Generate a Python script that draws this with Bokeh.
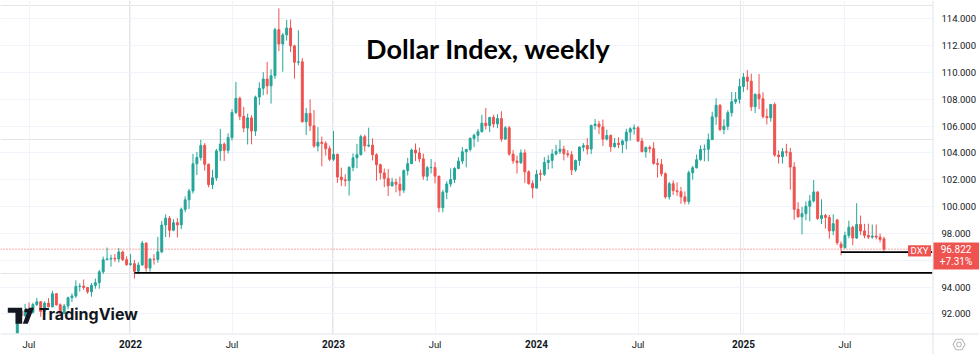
import pandas as pd
from bokeh.plotting import figure
from bokeh.models import (ColumnDataSource, Label, Span, PolyAnnotation, BoxAnnotation,
                          FixedTicker, Range1d, Grid)
from bokeh.embed import file_html
from bokeh.resources import INLINE

# ---------------- data (weekly DXY candles) ----------------
first_week = "2021-06-14"
opens = [
    90.52, 92.23, 91.85, 92.23, 92.12, 92.69, 92.90, 92.17, 92.80, 92.52,
    93.50, 92.67, 92.04, 92.58, 93.20, 93.33, 94.04, 94.07, 93.96, 93.64,
    94.12, 94.32, 95.13, 96.03, 96.09, 96.14, 96.09, 96.61, 96.04, 95.67,
    95.74, 95.17, 95.64, 97.27, 95.41, 96.08, 96.06, 96.62, 98.62, 99.13,
    98.23, 98.79, 98.63, 99.79, 100.50, 101.16, 103.19, 103.66, 104.56, 103.15,
    101.63, 102.14, 104.15, 104.65, 104.19, 105.14, 107.01, 108.07, 106.73, 105.85,
    106.61, 105.63, 108.16, 108.82, 109.51, 109.00, 109.76, 113.19, 112.12, 112.80,
    113.31, 111.98, 110.76, 110.79, 106.32, 106.94, 106.02, 104.51, 104.80, 104.70,
    104.32, 103.52, 103.89, 102.20, 101.99, 101.93, 102.92, 103.63, 103.87, 105.21,
    104.52, 104.58, 103.86, 103.12, 102.51, 102.10, 101.55, 101.82, 101.66, 101.22,
    102.68, 103.20, 104.21, 104.00, 103.56, 102.26, 102.90, 102.91, 102.27, 99.91,
    101.07, 101.68, 102.02, 102.84, 103.39, 104.08, 104.26, 105.08, 105.32, 105.58,
    106.22, 106.04, 106.65, 106.16, 106.56, 105.03, 105.87, 103.91, 103.40, 103.27,
    104.00, 102.59, 101.71, 101.38, 102.45, 102.40, 103.29, 103.44, 103.92, 104.11,
    104.28, 103.94, 103.86, 102.73, 103.43, 104.43, 104.55, 104.29, 106.04, 106.15,
    105.94, 105.03, 105.30, 104.46, 104.72, 104.62, 104.89, 105.55, 105.80, 105.87,
    104.88, 104.09, 104.40, 104.32, 103.21, 103.14, 102.45, 100.72, 101.70, 101.18,
    101.11, 100.72, 100.38, 102.52, 102.89, 103.49, 104.26, 104.28, 104.99, 106.69,
    107.55, 105.74, 105.99, 107.00, 107.82, 108.00, 108.95, 109.65, 109.35, 107.44,
    108.37, 108.04, 106.71, 106.62, 107.61, 103.84, 103.72, 104.09, 104.04, 102.95,
    99.79, 99.23, 99.47, 100.02, 100.42, 101.09, 99.11, 99.33, 99.19, 98.18,
    99.00, 97.20, 96.95, 97.85, 98.46, 97.65, 98.66, 98.18, 97.85, 97.72,
    97.80, 97.72, 97.59,
]
highs = [
    92.40, 92.41, 92.74, 92.84, 92.83, 93.19, 92.93, 92.94, 93.17, 93.73,
    93.54, 92.78, 92.72, 93.28, 93.52, 94.50, 94.28, 94.56, 94.01, 94.30,
    94.63, 95.27, 96.27, 96.94, 96.40, 96.46, 96.91, 96.72, 96.29, 96.46,
    96.01, 95.85, 97.44, 97.34, 96.18, 96.44, 97.74, 98.92, 99.42, 99.29,
    99.06, 99.14, 99.92, 100.76, 101.32, 103.93, 104.07, 104.98, 104.73, 103.20,
    102.74, 104.30, 105.79, 104.79, 105.45, 107.27, 109.29, 108.19, 107.43, 106.93,
    106.81, 108.27, 109.27, 110.02, 110.79, 110.24, 113.33, 114.78, 112.95, 113.92,
    113.95, 112.07, 113.15, 111.07, 107.35, 107.99, 107.20, 105.92, 105.22, 104.87,
    104.53, 105.63, 103.95, 102.90, 102.41, 103.01, 103.96, 104.67, 105.36, 105.36,
    105.88, 105.09, 103.98, 103.20, 102.84, 102.80, 102.14, 102.09, 102.23, 102.77,
    103.63, 104.33, 104.70, 104.40, 103.95, 103.03, 103.55, 103.32, 102.28, 101.24,
    101.89, 102.84, 102.94, 103.68, 104.44, 104.30, 105.16, 105.43, 105.78, 106.84,
    107.35, 106.67, 106.85, 106.89, 107.11, 106.00, 106.00, 104.21, 103.80, 104.26,
    104.26, 102.70, 101.95, 102.73, 102.74, 103.69, 103.82, 104.28, 104.60, 104.97,
    104.54, 104.21, 104.13, 103.51, 104.49, 104.73, 105.10, 106.11, 106.52, 106.39,
    106.49, 105.74, 105.38, 105.12, 105.16, 105.00, 105.80, 105.91, 106.13, 106.00,
    105.13, 104.49, 104.55, 104.80, 103.59, 103.54, 102.55, 101.84, 101.95, 101.80,
    101.47, 101.13, 102.69, 103.03, 103.87, 104.57, 104.63, 105.44, 107.07, 108.07,
    107.66, 106.51, 107.18, 108.54, 108.54, 109.54, 109.96, 110.18, 109.91, 108.44,
    109.88, 108.52, 107.30, 107.66, 107.76, 104.19, 104.36, 104.68, 104.37, 103.31,
    100.33, 99.98, 100.38, 100.86, 101.98, 101.12, 100.54, 99.45, 99.37, 99.42,
    99.09, 97.40, 98.12, 98.95, 98.58, 100.25, 99.33, 98.71, 98.72, 98.66,
    98.66, 97.98, 97.75,
]
lows = [
    90.42, 91.51, 91.81, 91.88, 92.02, 92.58, 91.78, 91.91, 92.49, 92.49,
    92.62, 91.94, 92.01, 92.33, 92.88, 93.18, 93.67, 93.78, 93.50, 93.28,
    93.87, 93.87, 94.98, 96.02, 95.52, 95.88, 95.83, 95.92, 95.57, 95.58,
    94.63, 94.96, 95.60, 95.14, 95.14, 95.67, 95.82, 96.52, 97.72, 97.71,
    98.16, 97.69, 98.31, 99.57, 99.82, 100.97, 102.35, 103.43, 102.67, 101.43,
    101.30, 101.92, 103.41, 103.40, 103.95, 104.92, 106.89, 106.44, 105.54, 104.63,
    104.64, 105.27, 107.58, 108.30, 108.36, 107.68, 109.52, 111.59, 110.05, 112.37,
    111.51, 109.54, 110.53, 106.27, 105.34, 105.63, 104.38, 104.11, 103.00, 103.80,
    103.38, 103.39, 101.77, 101.53, 101.50, 100.82, 102.63, 102.86, 103.80, 104.10,
    104.42, 103.44, 101.92, 102.02, 101.45, 100.79, 101.47, 101.06, 100.79, 101.01,
    102.32, 103.16, 103.39, 103.31, 102.00, 101.91, 102.47, 101.73, 99.58, 99.57,
    100.55, 101.46, 101.74, 102.78, 103.17, 102.93, 104.11, 104.43, 104.82, 105.53,
    105.74, 105.55, 105.89, 105.84, 104.84, 104.97, 103.79, 103.18, 102.46, 103.18,
    101.77, 101.62, 100.62, 101.34, 101.91, 102.28, 102.77, 102.84, 103.82, 103.92,
    103.44, 103.66, 102.35, 102.59, 103.05, 104.11, 103.88, 103.92, 105.74, 105.40,
    104.52, 104.93, 104.08, 104.39, 104.35, 103.99, 104.26, 104.91, 105.37, 104.84,
    104.05, 103.65, 104.01, 103.12, 102.16, 102.25, 100.59, 100.52, 100.86, 100.80,
    100.21, 100.16, 100.16, 102.00, 102.84, 103.42, 103.37, 103.37, 104.97, 106.10,
    105.62, 105.40, 105.70, 106.71, 107.64, 107.69, 108.55, 108.69, 107.13, 106.97,
    107.26, 106.56, 106.12, 106.33, 103.72, 103.20, 103.21, 103.74, 101.26, 99.01,
    99.17, 97.92, 98.98, 98.90, 100.30, 99.00, 98.69, 98.36, 97.60, 97.87,
    97.14, 96.37, 96.84, 97.63, 97.11, 97.58, 97.89, 97.63, 97.58, 97.60,
    97.55, 97.33, 96.55,
]
closes = [
    92.23, 91.85, 92.23, 92.12, 92.69, 92.90, 92.17, 92.80, 92.52, 93.50,
    92.67, 92.04, 92.58, 93.20, 93.33, 94.04, 94.07, 93.96, 93.64, 94.12,
    94.32, 95.13, 96.03, 96.09, 96.14, 96.09, 96.61, 96.04, 95.67, 95.74,
    95.17, 95.64, 97.27, 95.41, 96.08, 96.06, 96.62, 98.62, 99.13, 98.23,
    98.79, 98.63, 99.79, 100.50, 101.16, 103.19, 103.66, 104.56, 103.15, 101.63,
    102.14, 104.15, 104.65, 104.19, 105.14, 107.01, 108.07, 106.73, 105.85, 106.61,
    105.63, 108.16, 108.82, 109.51, 109.00, 109.76, 113.19, 112.12, 112.80, 113.31,
    111.98, 110.76, 110.79, 106.32, 106.94, 106.02, 104.51, 104.80, 104.70, 104.32,
    103.52, 103.89, 102.20, 101.99, 101.93, 102.92, 103.63, 103.87, 105.21, 104.52,
    104.58, 103.86, 103.12, 102.51, 102.10, 101.55, 101.82, 101.66, 101.22, 102.68,
    103.20, 104.21, 104.00, 103.56, 102.26, 102.90, 102.91, 102.27, 99.91, 101.07,
    101.68, 102.02, 102.84, 103.39, 104.08, 104.26, 105.08, 105.32, 105.58, 106.22,
    106.04, 106.65, 106.16, 106.56, 105.03, 105.87, 103.91, 103.40, 103.27, 104.00,
    102.59, 101.71, 101.38, 102.41, 102.40, 103.29, 103.44, 103.92, 104.11, 104.28,
    103.94, 103.86, 102.73, 103.43, 104.43, 104.55, 104.29, 106.04, 106.15, 105.94,
    105.03, 105.30, 104.46, 104.72, 104.62, 104.89, 105.55, 105.80, 105.87, 104.88,
    104.09, 104.40, 104.32, 103.21, 103.14, 102.45, 100.72, 101.70, 101.18, 101.11,
    100.72, 100.38, 102.52, 102.89, 103.49, 104.26, 104.28, 104.99, 106.69, 107.55,
    105.74, 105.99, 107.00, 107.82, 108.00, 108.95, 109.65, 109.35, 107.44, 108.37,
    108.04, 106.71, 106.62, 107.61, 103.84, 103.72, 104.09, 104.04, 102.95, 99.79,
    99.23, 99.47, 100.02, 100.42, 101.09, 99.11, 99.33, 99.19, 98.18, 98.72,
    97.30, 96.95, 97.85, 98.46, 97.65, 98.66, 98.18, 97.85, 97.72, 97.80,
    97.72, 97.55, 96.822,
]

# time-axis labels (first weekly bar of each half-year)
tick_dates = ["2021-07-05", "2022-01-03", "2022-07-04", "2023-01-02", "2023-07-03",
              "2024-01-01", "2024-07-01", "2025-01-06", "2025-07-07"]
tick_labels = ["Jul", "2022", "Jul", "2023", "Jul", "2024", "Jul", "2025", "Jul"]
price_ticks = [92, 94, 96, 98, 100, 102, 104, 106, 108, 110, 112, 114]

# user-drawn horizontal rays
ray_starts = ["2022-01-10", "2025-06-30"]
ray_levels = [95.05, 96.60]

symbol = "DXY"
last_price = 96.822
change_text = "+7.31%"
title_text = "Dollar Index, weekly"

# ---------------- styling / layout ----------------
UP, DOWN = "#26a69a", "#ef5350"
GRID = "#f0f3fa"
SEP = "#e0e3eb"
TXT = "#131722"
W, H = 979, 354
PANE_W, PANE_H = 932, 333          # chart pane; price scale right, time scale below
PX_WEEK = 3.904
FIRST_BAR_PX = 16.8
MS_WEEK = 7 * 24 * 3600 * 1000
PX_UNIT = 13.41                    # pixels per index point
Y_TOP_VALUE = 115.365              # value at top edge

weeks = pd.date_range(first_week, periods=len(closes), freq="W-MON")
t0 = weeks[0].value // 10**6
x_start = t0 - FIRST_BAR_PX / PX_WEEK * MS_WEEK
x_end = x_start + W / PX_WEEK * MS_WEEK
pane_x_end = x_start + PANE_W / PX_WEEK * MS_WEEK
y_end = Y_TOP_VALUE
y_start = Y_TOP_VALUE - H / PX_UNIT


def sy(Y):
    """canvas row (from top) -> screen units (from bottom)"""
    if isinstance(Y, (list, tuple)):
        return [H - v for v in Y]
    return H - Y


colors = [UP if c >= o else DOWN for o, c in zip(opens, closes)]
src = ColumnDataSource(dict(
    x=weeks, o=opens, h=highs, l=lows, c=closes,
    top=[max(o, c) for o, c in zip(opens, closes)],
    bottom=[min(o, c) for o, c in zip(opens, closes)],
    color=colors,
))

p = figure(width=W, height=H, x_axis_type="datetime",
           x_axis_location=None, y_axis_location=None,
           output_backend="svg", toolbar_location=None,
           x_range=Range1d(x_start, x_end), y_range=Range1d(y_start, y_end),
           min_border=0)
p.outline_line_color = None
p.background_fill_color = "white"
p.border_fill_color = "white"

tick_ms = [pd.Timestamp(d).value // 10**6 for d in tick_dates]
p.add_layout(Grid(dimension=0, ticker=FixedTicker(ticks=tick_ms), grid_line_color=GRID))
p.add_layout(Grid(dimension=1, ticker=FixedTicker(ticks=price_ticks), grid_line_color=GRID))

# last-price dotted line
p.add_layout(Span(location=last_price, dimension="width", line_color=DOWN,
                  line_width=1, line_dash="1 2"))

# candles
p.segment(x0="x", y0="l", x1="x", y1="h", line_color="color", line_width=1, source=src)
p.vbar(x="x", width=0.5 * MS_WEEK, top="top", bottom="bottom",
       fill_color="color", line_color="color", line_width=1, source=src)

# user rays
p.segment(x0=[pd.Timestamp(d) for d in ray_starts], y0=ray_levels,
          x1=[pd.Timestamp(pane_x_end, unit="ms")] * len(ray_levels), y1=ray_levels,
          line_color="black", line_width=1.6)

# scale areas (white) and separators
p.add_layout(BoxAnnotation(left=PANE_W, right=W, bottom=0, top=H,
                           left_units="screen", right_units="screen",
                           bottom_units="screen", top_units="screen",
                           fill_color="white", fill_alpha=1, line_alpha=0))
p.add_layout(BoxAnnotation(left=0, right=PANE_W, bottom=0, top=sy(PANE_H),
                           left_units="screen", right_units="screen",
                           bottom_units="screen", top_units="screen",
                           fill_color="white", fill_alpha=1, line_alpha=0))
p.add_layout(Span(location=PANE_W + 0.5, location_units="screen", dimension="height",
                  line_color=SEP, line_width=1))
p.add_layout(Span(location=sy(PANE_H) - 0.5, location_units="screen", dimension="width",
                  line_color=SEP, line_width=1))

# price scale labels
for v in price_ticks:
    if v == 96:
        continue  # hidden behind the price tag
    p.add_layout(Label(x=941, x_units="screen", y=v, text=f"{v:.3f}",
                       text_align="left", text_baseline="middle",
                       text_font="Roboto", text_font_size="9.5px", text_color=TXT))

# time scale labels
for t, lab in zip(tick_ms, tick_labels):
    is_year = lab[0].isdigit()
    p.add_layout(Label(x=t, y=sy(343.8), y_units="screen", text=lab,
                       text_align="center", text_baseline="middle",
                       text_font="Roboto",
                       text_font_style="bold" if is_year else "normal",
                       text_font_size="10px" if is_year else "9.5px",
                       text_color=TXT))

# title
p.add_layout(Label(x=488, y=sy(47.7), x_units="screen", y_units="screen",
                   text=title_text, text_align="center", text_baseline="alphabetic",
                   text_font="Lato", text_font_style="bold", text_font_size="27px",
                   text_color="black"))

# TradingView watermark
p.add_layout(PolyAnnotation(xs=[7.3, 21.7, 21.7, 15.0, 15.0, 7.3],
                            ys=sy([307.3, 307.3, 323.3, 323.3, 312.3, 312.3]),
                            xs_units="screen", ys_units="screen",
                            fill_color=TXT, fill_alpha=1, line_alpha=0))
p.add_layout(PolyAnnotation(xs=[24.0, 25.2, 26.8, 28.0, 28.0, 26.8, 25.2, 24.0],
                            ys=sy([309.2, 308.0, 308.0, 309.2, 310.8, 312.0, 312.0, 310.8]),
                            xs_units="screen", ys_units="screen",
                            fill_color=TXT, fill_alpha=1, line_alpha=0))
p.add_layout(PolyAnnotation(xs=[28.3, 33.5, 27.3, 22.3],
                            ys=sy([307.3, 307.3, 323.3, 323.3]),
                            xs_units="screen", ys_units="screen",
                            fill_color=TXT, fill_alpha=1, line_alpha=0))
p.add_layout(Label(x=38.3, y=sy(313.4), x_units="screen", y_units="screen",
                   text="TradingView", text_align="left", text_baseline="alphabetic",
                   text_font="Inter", text_font_style="bold", text_font_size="16px",
                   text_color=TXT))

# symbol tag
p.add_layout(BoxAnnotation(left=907.5, right=930.5, left_units="screen", right_units="screen",
                           top=last_price + 4.0 / PX_UNIT, bottom=last_price - 7.3 / PX_UNIT,
                           fill_color=DOWN, fill_alpha=1, line_alpha=0))
p.add_layout(Label(x=919, x_units="screen", y=last_price - 1.6 / PX_UNIT, text=symbol,
                   text_align="center", text_baseline="middle",
                   text_font="Roboto", text_font_size="9.5px", text_color="white"))

# price tag
p.add_layout(BoxAnnotation(left=PANE_W + 1, right=W, left_units="screen", right_units="screen",
                           top=last_price + 6.7 / PX_UNIT, bottom=last_price - 20.3 / PX_UNIT,
                           fill_color=DOWN, fill_alpha=1, line_alpha=0))
p.add_layout(Label(x=955.5, x_units="screen", y=last_price, text=f"{last_price:.3f}",
                   text_align="center", text_baseline="middle",
                   text_font="Roboto", text_font_size="10px", text_color="white"))
p.add_layout(Label(x=955.5, x_units="screen", y=last_price - 12.5 / PX_UNIT, text=change_text,
                   text_align="center", text_baseline="middle",
                   text_font="Roboto", text_font_size="10px", text_color="white"))

# settings icon in the scale corner
p.add_layout(PolyAnnotation(xs=[964.5, 961.5, 955.5, 952.5, 955.5, 961.5],
                            ys=sy([344.0, 338.8, 338.8, 344.0, 349.2, 349.2]),
                            xs_units="screen", ys_units="screen",
                            fill_alpha=0, line_color=TXT, line_width=1.1))
p.add_layout(PolyAnnotation(xs=[956.3, 957.2, 959.8, 960.7, 960.7, 959.8, 957.2, 956.3],
                            ys=sy([343.0, 341.8, 341.8, 343.0, 345.0, 346.2, 346.2, 345.0]),
                            xs_units="screen", ys_units="screen",
                            fill_alpha=0, line_color=TXT, line_width=1.1))

open("out.html", "w").write(file_html(p, INLINE))
